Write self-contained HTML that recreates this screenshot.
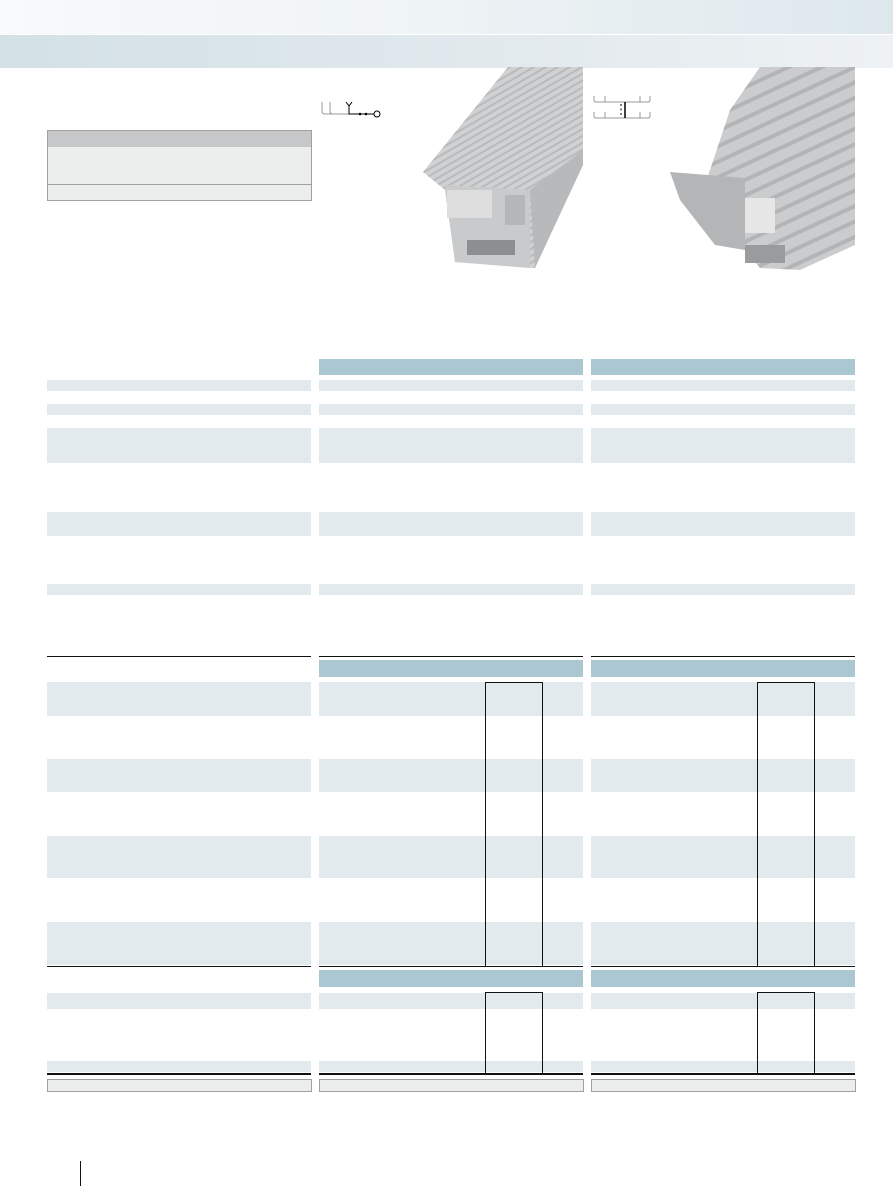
<!DOCTYPE html>
<html><head><meta charset="utf-8"><style>
body{margin:0;width:893px;height:1186px;position:relative;background:#fff;overflow:hidden;font-family:"Liberation Sans",sans-serif}
div{position:absolute}
.l{background:#e2eaed}
.h{background:#abc7d2}
.k{background:#111}
</style></head><body>
<div style="left:0;top:0;width:893px;height:34px;background:linear-gradient(90deg,#f8fafb,#eef3f5 50%,#dde8ed)"></div>
<div style="left:0;top:35px;width:893px;height:33px;background:linear-gradient(90deg,#d3e1e7,#e3eaee 60%,#eef2f4)"></div>
<div style="left:47px;top:130px;width:263px;height:69px;border:1px solid #a0a0a0;background:#eceeed"></div>
<div style="left:48px;top:131px;width:263px;height:16px;background:#c6c7c8"></div>
<div style="left:48px;top:184px;width:263px;height:1px;background:#a0a0a0"></div>
<svg style="position:absolute;left:318px;top:98px" width="70" height="22"><path d="M4,4V13Q4,16 7,16H14M12,4V13Q12,16 15,16H31" stroke="#999" fill="none"/><path d="M28,4L31,8L34,4M31,8V16H56" stroke="#000" fill="none"/><circle cx="42" cy="16" r="1.3"/><circle cx="48" cy="16" r="1.3"/><circle cx="59" cy="16" r="3" fill="#fff" stroke="#000"/></svg>
<svg style="position:absolute;left:590px;top:90px" width="70" height="36"><path d="M4,6V10Q4,12 6,12H58Q60,12 60,10V6M15,6V12M50,6V12M4,22V26Q4,28 6,28H58Q60,28 60,26V22M15,22V28M50,22V28" stroke="#999" fill="none"/><path d="M35,12V28" stroke="#000" stroke-width="1.5"/><path d="M31,14V27" stroke="#000" stroke-dasharray="2,2.5"/></svg>
<svg style="position:absolute;left:0;top:0" width="893" height="290">
<defs><pattern id="st" width="6" height="6" patternUnits="userSpaceOnUse" patternTransform="rotate(-30)"><rect width="6" height="6" fill="#d0d1d2"/><rect width="6" height="2" fill="#b9babb"/></pattern>
<pattern id="st2" width="14" height="14" patternUnits="userSpaceOnUse" patternTransform="rotate(-25)"><rect width="14" height="14" fill="#cbcccd"/><rect width="14" height="4" fill="#b3b4b5"/></pattern></defs>
<polygon points="508,67 583,67 583,160 535,268 455,262 445,190 423,172" fill="url(#st)"/>
<polygon points="445,185 530,190 530,268 455,262" fill="#c9cacb"/>
<rect x="447" y="190" width="45" height="28" fill="#dddddd"/>
<rect x="505" y="195" width="20" height="30" fill="#b5b6b7"/>
<rect x="467" y="240" width="48" height="15" fill="#8d8e8f"/>
<polygon points="530,190 583,150 583,165 535,268" fill="#b8b9ba"/>
<polygon points="760,67 855,67 855,245 800,270 760,268 745,250 700,200 730,110" fill="url(#st2)"/>
<polygon points="670,172 745,178 745,250 715,245 680,200" fill="#b4b5b6"/>
<rect x="745" y="198" width="30" height="35" fill="#e6e6e6"/>
<rect x="745" y="245" width="40" height="18" fill="#9a9b9c"/>
</svg>
<div class="h" style="left:319px;top:359px;width:264px;height:16px"></div>
<div class="h" style="left:591px;top:359px;width:264px;height:16px"></div>
<div class="l" style="left:47px;top:380px;width:264px;height:11px"></div><div class="l" style="left:319px;top:380px;width:264px;height:11px"></div><div class="l" style="left:591px;top:380px;width:264px;height:11px"></div>
<div class="l" style="left:47px;top:404px;width:264px;height:11px"></div><div class="l" style="left:319px;top:404px;width:264px;height:11px"></div><div class="l" style="left:591px;top:404px;width:264px;height:11px"></div>
<div class="l" style="left:47px;top:428px;width:264px;height:35px"></div><div class="l" style="left:319px;top:428px;width:264px;height:35px"></div><div class="l" style="left:591px;top:428px;width:264px;height:35px"></div>
<div class="l" style="left:47px;top:512px;width:264px;height:24px"></div><div class="l" style="left:319px;top:512px;width:264px;height:24px"></div><div class="l" style="left:591px;top:512px;width:264px;height:24px"></div>
<div class="l" style="left:47px;top:584px;width:264px;height:11px"></div><div class="l" style="left:319px;top:584px;width:264px;height:11px"></div><div class="l" style="left:591px;top:584px;width:264px;height:11px"></div>
<div class="k" style="left:47px;top:656px;width:264px;height:1px"></div><div class="k" style="left:319px;top:656px;width:264px;height:1px"></div><div class="k" style="left:591px;top:656px;width:264px;height:1px"></div>
<div class="h" style="left:319px;top:660px;width:264px;height:17px"></div>
<div class="h" style="left:591px;top:660px;width:264px;height:17px"></div>
<div class="l" style="left:47px;top:682px;width:264px;height:34px"></div><div class="l" style="left:319px;top:682px;width:264px;height:34px"></div><div class="l" style="left:591px;top:682px;width:264px;height:34px"></div>
<div class="l" style="left:47px;top:759px;width:264px;height:33px"></div><div class="l" style="left:319px;top:759px;width:264px;height:33px"></div><div class="l" style="left:591px;top:759px;width:264px;height:33px"></div>
<div class="l" style="left:47px;top:836px;width:264px;height:42px"></div><div class="l" style="left:319px;top:836px;width:264px;height:42px"></div><div class="l" style="left:591px;top:836px;width:264px;height:42px"></div>
<div class="l" style="left:47px;top:922px;width:264px;height:43px"></div><div class="l" style="left:319px;top:922px;width:264px;height:43px"></div><div class="l" style="left:591px;top:922px;width:264px;height:43px"></div>
<div style="left:485px;top:682px;width:56px;height:283px;border:1px solid #111;border-bottom:none"></div>
<div style="left:757px;top:682px;width:56px;height:283px;border:1px solid #111;border-bottom:none"></div>
<div class="k" style="left:47px;top:966px;width:264px;height:1px"></div><div class="k" style="left:319px;top:966px;width:264px;height:1px"></div><div class="k" style="left:591px;top:966px;width:264px;height:1px"></div>
<div class="h" style="left:319px;top:970px;width:264px;height:17px"></div>
<div class="h" style="left:591px;top:970px;width:264px;height:17px"></div>
<div class="l" style="left:47px;top:993px;width:264px;height:16px"></div><div class="l" style="left:319px;top:993px;width:264px;height:16px"></div><div class="l" style="left:591px;top:993px;width:264px;height:16px"></div>
<div class="l" style="left:47px;top:1061px;width:264px;height:11px"></div><div class="l" style="left:319px;top:1061px;width:264px;height:11px"></div><div class="l" style="left:591px;top:1061px;width:264px;height:11px"></div>
<div style="left:485px;top:992px;width:56px;height:81px;border:1px solid #111;border-bottom:none"></div>
<div style="left:757px;top:992px;width:56px;height:81px;border:1px solid #111;border-bottom:none"></div>
<div class="k" style="left:47px;top:1073px;width:264px;height:2px"></div><div class="k" style="left:319px;top:1073px;width:264px;height:2px"></div><div class="k" style="left:591px;top:1073px;width:264px;height:2px"></div>
<div style="left:47px;top:1079px;width:263px;height:11px;background:#eceeed;border:1px solid #a0a0a0"></div>
<div style="left:319px;top:1079px;width:263px;height:11px;background:#eceeed;border:1px solid #a0a0a0"></div>
<div style="left:591px;top:1079px;width:263px;height:11px;background:#eceeed;border:1px solid #a0a0a0"></div>
<div class="k" style="left:80px;top:1161px;width:1px;height:25px"></div>
</body></html>
